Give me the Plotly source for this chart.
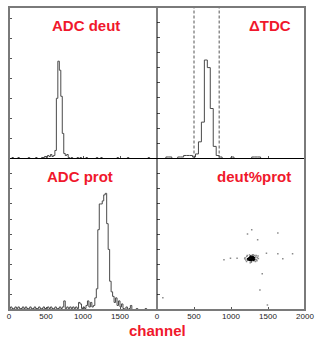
import plotly.graph_objects as go

# ---------------- data ----------------
# ADC deut histogram: 100 bins of 20 channels, 0..2000
deut_counts = [0, 0, 1, 0, 0, 0, 1, 0, 0, 0,
               0, 0, 0, 1, 0, 0, 0, 0, 1, 0,
               0, 0, 1, 1, 2, 1, 3, 2, 4, 2,
               3, 8, 60, 97, 88, 62, 25, 5, 3, 4,
               1, 0, 1, 0, 0, 0, 1, 0, 1, 0,
               0, 0, 1, 0, 0, 0, 0, 0, 0, 1,
               0, 0, 1, 0, 0, 0, 0, 0, 0, 0,
               0, 0, 0, 1, 0, 0, 0, 0, 0, 0,
               1, 0, 0, 0, 0, 0, 0, 0, 0, 0,
               0, 0, 0, 0, 1, 0, 0, 0, 0, 0]

# Delta TDC histogram: 50 bins of 40 channels, 0..2000
tdc_counts = [0, 0, 0, 1, 1, 0, 0, 1, 1, 2,
              2, 2, 1, 3, 11, 24, 65, 60, 33, 8,
              2, 1, 0, 0, 0, 1, 0, 0, 0, 0,
              0, 0, 1, 1, 1, 0, 0, 0, 0, 0,
              0, 0, 0, 0, 0, 0, 0, 0, 0, 0]
tdc_cuts = [500, 840]

# ADC prot histogram: 100 bins of 20 channels, 0..2000
prot_counts = [1, 2, 1, 1, 2, 1, 2, 1, 1, 2,
               1, 2, 1, 1, 2, 1, 1, 2, 1, 1,
               2, 1, 1, 2, 1, 1, 2, 1, 2, 1,
               1, 2, 1, 1, 2, 1, 2, 6, 1, 2,
               1, 2, 1, 2, 1, 2, 1, 5, 4, 1,
               2, 1, 3, 6, 2, 5, 2, 3, 8, 14,
               53, 70, 70, 72, 76, 77, 57, 40, 19, 12,
               9, 5, 8, 3, 6, 2, 4, 1, 0, 2,
               0, 1, 3, 0, 0, 0, 1, 0, 0, 0,
               0, 0, 1, 0, 0, 0, 0, 0, 0, 0]

# deut % prot scatter (x = prot, y = deut)
core_x = [1230, 1245, 1252, 1260, 1265, 1270, 1275, 1280, 1285, 1290,
          1295, 1300, 1305, 1310, 1240, 1255, 1262, 1272, 1278, 1288,
          1298, 1308, 1315, 1225, 1248, 1268, 1283, 1293, 1303, 1320]
core_y = [660, 672, 690, 655, 700, 680, 665, 690, 705, 672,
          660, 685, 695, 670, 685, 700, 668, 695, 650, 682,
          705, 655, 690, 675, 658, 712, 668, 692, 675, 668]
halo_x = [1190, 1200, 1212, 1335, 1345, 1355, 1365, 1210, 1330, 1250,
          1300, 1275, 1340, 1185, 1370, 1220, 1320, 1260, 1290, 1350]
halo_y = [690, 660, 705, 700, 665, 690, 712, 640, 640, 725,
          728, 630, 720, 675, 680, 720, 720, 625, 730, 650]
out_x = [1280, 1633, 1223, 1360, 993, 905, 1832, 1633, 1700, 1479,
         1422, 1391, 1492, 79, 1082]
out_y = [1060, 1015, 1002, 927, 684, 662, 742, 742, 675, 750,
         477, 265, 66, 163, 684]

xticks_left = [0, 500, 1000, 1500]
xticks_right = [0, 500, 1000, 1500, 2000]

# ---------------- figure ----------------
def steps(counts, width):
    xs = [i * width for i in range(len(counts))] + [len(counts) * width]
    ys = list(counts) + [counts[-1]]
    return xs, ys

LINE = dict(color="#4a4a4a", width=1, shape="hv")
fig = go.Figure()

x, y = steps(deut_counts, 20)
fig.add_trace(go.Scatter(x=x, y=y, mode="lines", line=LINE, xaxis="x", yaxis="y"))
x, y = steps(tdc_counts, 40)
fig.add_trace(go.Scatter(x=x, y=y, mode="lines", line=LINE, xaxis="x2", yaxis="y2"))
x, y = steps(prot_counts, 20)
fig.add_trace(go.Scatter(x=x, y=y, mode="lines", line=LINE, xaxis="x3", yaxis="y3"))
fig.add_trace(go.Scatter(x=halo_x + out_x, y=halo_y + out_y, mode="markers",
                         marker=dict(size=1.5, color="#8a8a8a", symbol="square"),
                         xaxis="x4", yaxis="y4"))
fig.add_trace(go.Scatter(x=core_x, y=core_y, mode="markers",
                         marker=dict(size=1.6, color="#000000", symbol="square"),
                         xaxis="x4", yaxis="y4"))

for c in tdc_cuts:
    fig.add_shape(type="line", xref="x2", yref="y2 domain", x0=c, x1=c, y0=0, y1=1,
                  line=dict(color="#555555", width=1, dash="3px,2px"))

common = dict(showgrid=False, zeroline=False, ticks="inside", ticklen=3,
              tickcolor="#555555", tickwidth=1, showline=False,
              tickfont=dict(family="Liberation Sans, Arial", size=8, color="#222"))

def xa(domain, anchor, show, vals):
    d = dict(common)
    d.update(domain=domain, anchor=anchor, range=[0, 2000], tickvals=vals,
             showticklabels=show)
    return d

def ya(domain, anchor, rng, dtick):
    d = dict(common)
    d.update(domain=domain, anchor=anchor, range=rng, dtick=dtick, showticklabels=False)
    return d

fig.update_layout(
    width=321, height=340,
    margin=dict(l=8, r=10, t=7, b=30),
    paper_bgcolor="white", plot_bgcolor="white",
    showlegend=False,
    xaxis=xa([0, 0.5], "y", False, xticks_left),
    yaxis=ya([0.5, 1], "x", [0, 151], 20),
    xaxis2=xa([0.5, 1], "y2", False, xticks_right),
    yaxis2=ya([0.5, 1], "x2", [0, 100], 10),
    xaxis3=xa([0, 0.5], "y3", True, xticks_left),
    yaxis3=ya([0, 0.5], "x3", [0, 100], 10),
    xaxis4=xa([0.5, 1], "y4", True, xticks_right),
    yaxis4=ya([0, 0.5], "x4", [0, 2000], 200),
)

# frame and dividers
fig.add_shape(type="line", xref="paper", yref="paper", x0=0.5, x1=0.5, y0=0, y1=1,
              line=dict(color="black", width=1))
fig.add_shape(type="line", xref="paper", yref="paper", x0=0, x1=1, y0=0.5, y1=0.5,
              line=dict(color="black", width=1))
fig.add_shape(type="rect", xref="paper", yref="paper", x0=0, x1=1, y0=0, y1=1,
              line=dict(color="#7a7a7a", width=2))

RED = "#f0182c"
TFONT = dict(family="Liberation Sans, Arial", size=15, color=RED)
def title(text, x, y, anchor):
    fig.add_annotation(text="<b>%s</b>" % text, xref="paper", yref="paper", x=x, y=y,
                       xanchor=anchor, yanchor="middle", showarrow=False, font=TFONT)

title("ADC deut", 0.26, 0.94, "center")
title("ΔTDC", 0.96, 0.94, "right")
title("ADC prot", 0.24, 0.44, "center")
title("deut%prot", 0.96, 0.44, "right")
fig.add_annotation(text="<b>channel</b>", xref="paper", yref="paper", x=0.5, y=-0.068,
                   xanchor="center", yanchor="middle", showarrow=False, font=TFONT)

fig.write_html("out.html")
